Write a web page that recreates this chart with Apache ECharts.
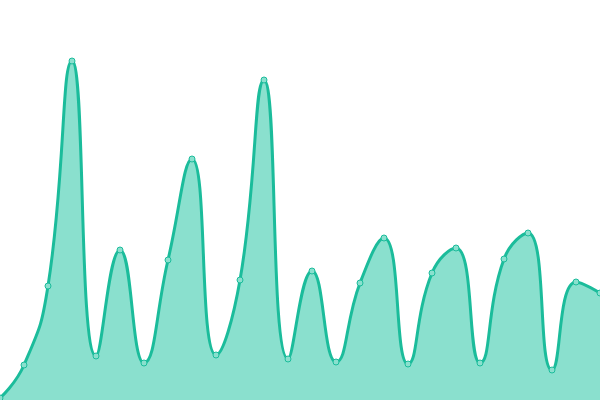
<!DOCTYPE html>
<html><head><meta charset="utf-8">
<script src="https://cdn.jsdelivr.net/npm/echarts@6/dist/echarts.min.js"></script>
<style>html,body{margin:0;padding:0;background:#fff}#c{width:600px;height:400px}</style>
</head><body><div id="c"></div>
<script>
const categories = ['1','2','3','4','5','6','7','8','9','10','11','12','13','14','15','16','17','18','19','20','21','22','23','24','25','26'];
const values = [2, 35, 114, 339, 44, 150, 37, 140, 241, 45, 120, 320, 41, 129, 38, 117, 162, 36, 127, 152, 37, 141, 167, 30, 118, 107];
const chart = echarts.init(document.getElementById('c'));
chart.setOption({
  animation: false,
  grid: {left: 0, right: 0, top: 0, bottom: 0},
  xAxis: {type: 'category', data: categories, boundaryGap: false, show: false},
  yAxis: {type: 'value', min: 0, max: 400, show: false},
  series: [{
    type: 'line',
    data: values,
    smooth: true,
    symbol: 'circle',
    symbolSize: 6,
    itemStyle: {color: '#8ae0ce', borderColor: '#1bbc9b', borderWidth: 1},
    lineStyle: {color: '#1bbc9b', width: 3},
    areaStyle: {color: '#8ae0ce', opacity: 1}
  }]
});
</script></body></html>
